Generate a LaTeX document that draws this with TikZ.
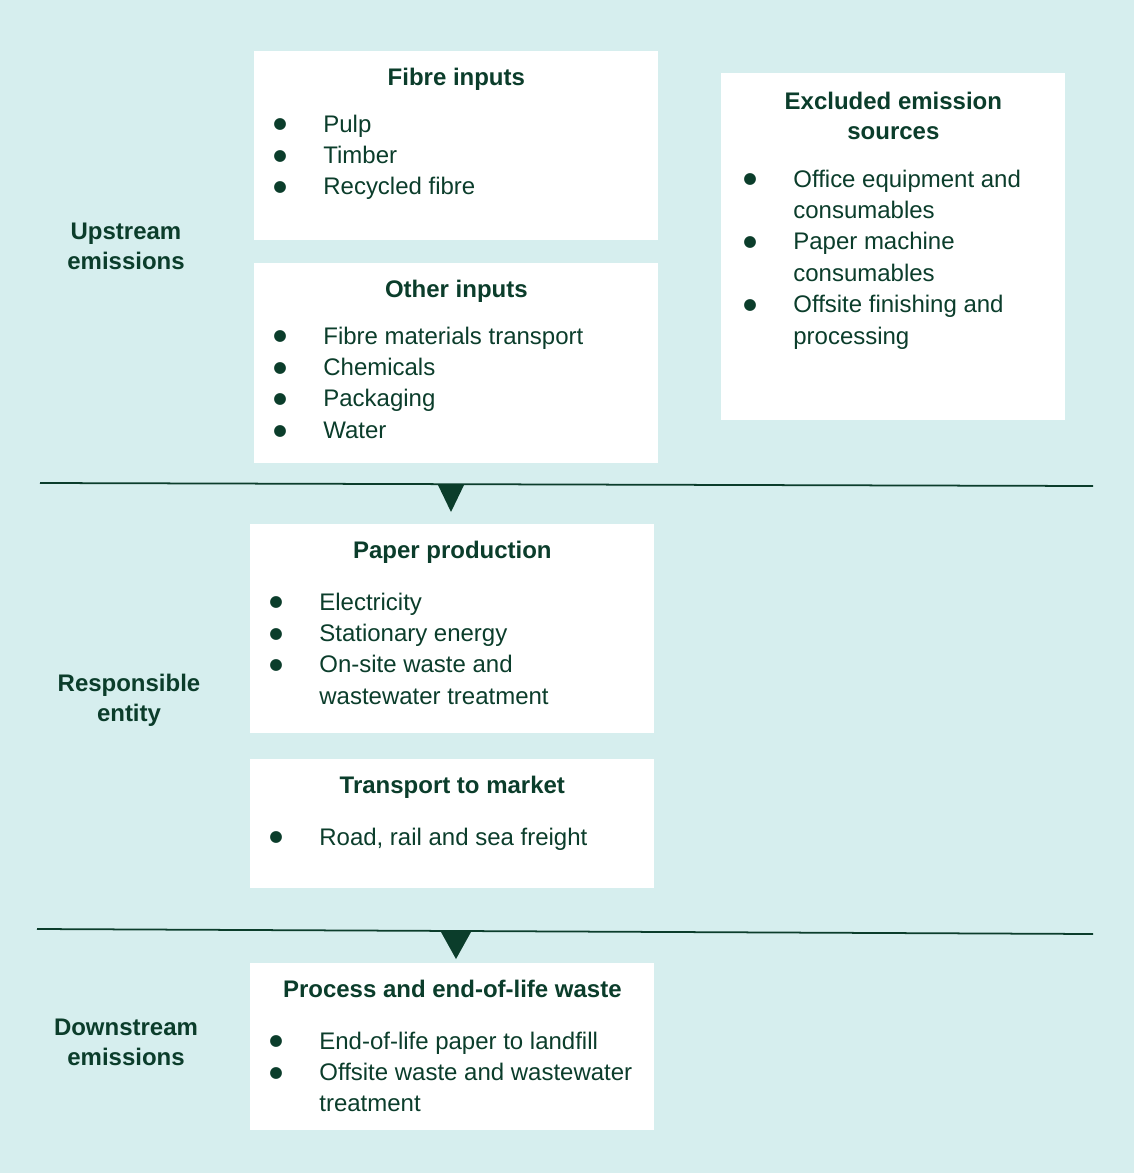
\documentclass[tikz,border=0pt]{standalone}
\usepackage{fontspec}
\setmainfont{Liberation Sans}
\newfontfamily\dotfont{DejaVu Sans}
\usepackage{xcolor}
\definecolor{bgteal}{HTML}{D6EEEE}
\definecolor{ink}{HTML}{0B3D2B}
\newcommand\blt{\hspace*{-1.7pt}\raisebox{1.9pt}{\fontsize{8.8}{9}\dotfont ●}}

\begin{document}
\begin{tikzpicture}[
  font=\fontsize{13.65}{17.9}\selectfont, text=ink,
  panel/.style={fill=white, draw=none, anchor=north west, inner sep=0pt},
  head/.style={font=\fontsize{13.65}{17}\selectfont\bfseries, anchor=base, align=center, inner sep=0pt},
  lst/.style={anchor=base west, inner sep=0pt},
  side/.style={font=\fontsize{13.65}{17}\selectfont\bfseries, align=center, inner sep=0pt},
  rule/.style={draw=ink, line width=1pt},
  tri/.style={fill=ink}]
\def\bw{0.94cm}
\fill[bgteal] (0,0) rectangle (22.68,-23.46);
\useasboundingbox (0,0) rectangle (22.68,-23.46);

% boxes
\node [panel, minimum width=8.08cm, minimum height=3.78cm, name=fibre]  at (5.08,-1.02) {};
\node [panel, minimum width=8.08cm, minimum height=4.00cm, name=other]  at (5.08,-5.26) {};
\node [panel, minimum width=6.88cm, minimum height=6.94cm, name=excl]   at (14.42,-1.46) {};
\node [panel, minimum width=8.08cm, minimum height=4.18cm, name=paper]  at (5.00,-10.48) {};
\node [panel, minimum width=8.08cm, minimum height=2.58cm, name=transp] at (5.00,-15.18) {};
\node [panel, minimum width=8.08cm, minimum height=3.34cm, name=proc]   at (5.00,-19.26) {};

% titles
\node [head, yshift=-0.68cm, name=fibreT]  at (fibre.north)  {Fibre inputs};
\node [head, yshift=-0.68cm, name=otherT]  at (other.north)  {Other inputs};
\node [head, yshift=-1.32cm, name=exclT]   at (excl.north)   {Excluded emission\\sources};
\node [head, yshift=-0.68cm, name=paperT]  at (paper.north)  {Paper production};
\node [head, yshift=-0.68cm, name=transpT] at (transp.north) {Transport to market};
\node [head, yshift=-0.68cm, name=procT]   at (proc.north)   {Process and end-of-life waste};

% lists
\node [lst, xshift=0.44cm, yshift=-1.62cm, name=fibreL] at (fibre.north west)
  {\begin{tabular}[t]{@{}p{\bw}@{}l@{}}\blt & Pulp\\ \blt & Timber\\ \blt & Recycled fibre\end{tabular}};
\node [lst, xshift=0.44cm, yshift=-1.62cm, name=otherL] at (other.north west)
  {\begin{tabular}[t]{@{}p{\bw}@{}l@{}}\blt & Fibre materials transport\\ \blt & Chemicals\\ \blt & Packaging\\ \blt & Water\end{tabular}};
\node [lst, xshift=0.50cm, yshift=-2.28cm, name=exclL] at (excl.north west)
  {\begin{tabular}[t]{@{}p{\bw}@{}l@{}}\blt & Office equipment and\\ & consumables\\ \blt & Paper machine\\ & consumables\\ \blt & Offsite finishing and\\ & processing\end{tabular}};
\node [lst, xshift=0.44cm, yshift=-1.72cm, name=paperL] at (paper.north west)
  {\begin{tabular}[t]{@{}p{\bw}@{}l@{}}\blt & Electricity\\ \blt & Stationary energy\\ \blt & On-site waste and\\ & wastewater treatment\end{tabular}};
\node [lst, xshift=0.44cm, yshift=-1.72cm, name=transpL] at (transp.north west)
  {\begin{tabular}[t]{@{}p{\bw}@{}l@{}}\blt & Road, rail and sea freight\end{tabular}};
\node [lst, xshift=0.44cm, yshift=-1.72cm, name=procL] at (proc.north west)
  {\begin{tabular}[t]{@{}p{\bw}@{}l@{}}\blt & End-of-life paper to landfill\\ \blt & Offsite waste and wastewater\\ & treatment\end{tabular}};

% side labels
\node [side, name=up]   at (2.52,-4.92)  {Upstream\\emissions};
\node [side, name=resp] at (2.58,-14.00) {Responsible\\entity};
\node [side, name=down] at (2.52,-20.84) {Downstream\\emissions};

% dividers
\coordinate (r1a) at (0.80,-9.66);
\coordinate (r1b) at (21.86,-9.72);
\coordinate (r2a) at (0.74,-18.58);
\coordinate (r2b) at (21.86,-18.68);
\draw [rule] (r1a) -- (r1b);
\draw [rule] (r2a) -- (r2b);
\coordinate (tip1) at (9.02,-10.24);
\coordinate (tip2) at (9.12,-19.18);
\fill [tri] (tip1) -- ++(-0.27,0.56) -- ++(0.54,0) -- cycle;
\fill [tri] (tip2) -- ++(-0.30,0.54) -- ++(0.60,0) -- cycle;
%\node at (11,-23) {};
\end{tikzpicture}
\end{document}
